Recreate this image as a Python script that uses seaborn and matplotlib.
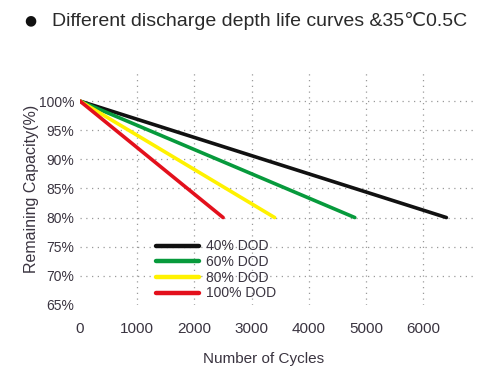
import matplotlib
matplotlib.use("Agg")
import matplotlib.pyplot as plt
import numpy as np
import pandas as pd
import seaborn as sns

# chart data
dod_labels = ["40% DOD", "60% DOD", "80% DOD", "100% DOD"]
start_cycles = [0, 0, 0, 0]
end_cycles = [6400, 4800, 3400, 2500]
start_capacity = [100, 100, 100, 100]
end_capacity = [80, 80, 80, 80]
line_colors = ["#111111", "#079a3c", "#fff200", "#e3101c"]

x_ticks = [0, 1000, 2000, 3000, 4000, 5000, 6000]
y_ticks = [65, 70, 75, 80, 85, 90, 95, 100]

rows = []
for lab, x0, x1, y0, y1 in zip(dod_labels, start_cycles, end_cycles, start_capacity, end_capacity):
    rows.append({"DOD": lab, "cycles": x0, "capacity": y0})
    rows.append({"DOD": lab, "cycles": x1, "capacity": y1})
df = pd.DataFrame(rows)

sns.set_theme(style="white")
plt.rcParams["font.family"] = ["Liberation Sans", "DejaVu Sans"]
text_col = "#3a3440"

fig = plt.figure(figsize=(5, 3.75), dpi=100)
ax = fig.add_axes([0.16, 0.187, 0.79, 0.621])

sns.lineplot(data=df, x="cycles", y="capacity", hue="DOD",
             palette=dict(zip(dod_labels, line_colors)),
             linewidth=2.6, ax=ax, legend=True)

ax.set_xlim(0, 6900)
ax.set_ylim(65, 105)
ax.set_xticks(x_ticks)
ax.set_yticks(y_ticks)
ax.set_yticklabels([f"{v}%" for v in y_ticks])
ax.tick_params(axis="both", length=0, labelcolor=text_col)
ax.tick_params(axis="x", pad=12, labelsize=11)
ax.tick_params(axis="y", pad=4, labelsize=10)

ax.grid(True, linestyle=(0, (1, 3.6)), color="#9a9a9a", linewidth=0.9)
ax.set_axisbelow(True)
# no grid at the origin lines
ax.xaxis.get_gridlines()[0].set_visible(False)
ax.yaxis.get_gridlines()[0].set_visible(False)

for s in ax.spines.values():
    s.set_visible(False)

ax.set_xlabel("Number of Cycles", fontsize=11, color=text_col)
ax.xaxis.set_label_coords(0.464, -0.202)
ax.set_ylabel("Remaining Capacity(%)", fontsize=11.5, color=text_col)
ax.yaxis.set_label_coords(-0.105, 0.5)

handles, labels = ax.get_legend_handles_labels()
for h in handles:
    h.set_linewidth(3.2)
ax.legend(handles, labels, loc="upper left", bbox_to_anchor=(0.298, 0.38),
          bbox_transform=fig.transFigure, frameon=False, fontsize=10,
          handlelength=3.1, handletextpad=0.5, labelspacing=0.12,
          borderpad=0, labelcolor=text_col)

fig.text(0.06, 0.945, "\u25CF", fontsize=10, color="#111111",
         va="center", ha="center", family=["DejaVu Sans"])
fig.text(0.103, 0.945, "Different discharge depth life curves &35\u21030.5C",
         fontsize=14, color="#2a2a2a", va="center", ha="left",
         family=["Liberation Sans", "DejaVu Sans"])

fig.savefig("out.png", dpi=100)
